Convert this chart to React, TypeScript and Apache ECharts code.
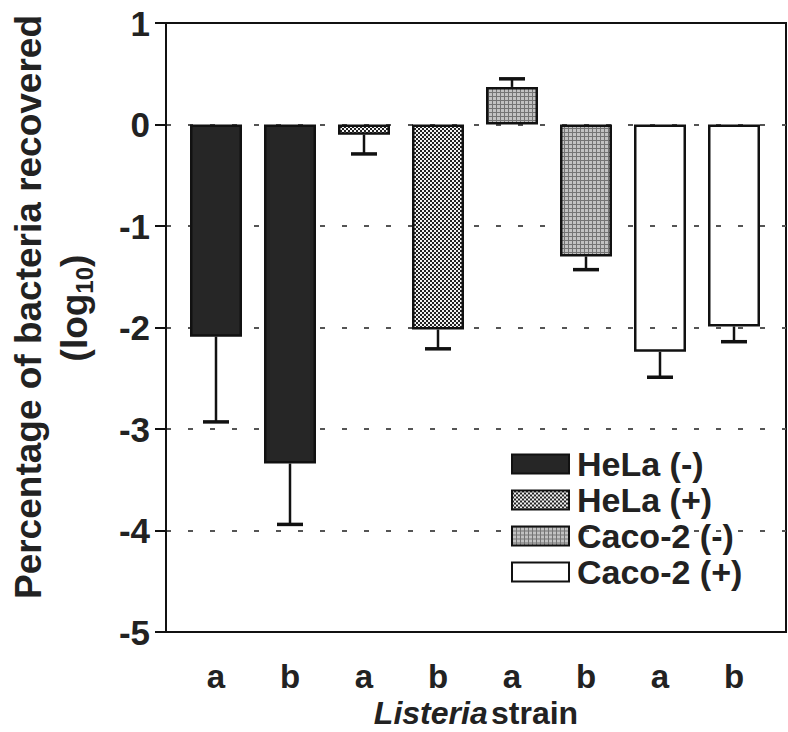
import React, { useEffect, useRef } from 'react';
import * as echarts from 'echarts';

const strainLabels = ['a', 'b', 'a', 'b', 'a', 'b', 'a', 'b'];
const seriesNames = ['HeLa (-)', 'HeLa (+)', 'Caco-2 (-)', 'Caco-2 (+)'];
const helaMinusMean = [-2.09, -3.34];
const helaMinusErr = [-2.93, -3.94];
const helaPlusMean = [-0.1, -2.02];
const helaPlusErr = [-0.29, -2.21];
const cacoMinusMean = [0.37, -1.3];
const cacoMinusErr = [0.45, -1.43];
const cacoPlusMean = [-2.24, -1.99];
const cacoPlusErr = [-2.49, -2.14];
const yMin = -5;
const yMax = 1;

const FONT = '"Liberation Sans", Arial, Helvetica, sans-serif';

function makePattern(w: number, h: number, draw: (ctx: CanvasRenderingContext2D) => void) {
  const c = document.createElement('canvas');
  c.width = w;
  c.height = h;
  const ctx = c.getContext('2d') as CanvasRenderingContext2D;
  draw(ctx);
  return { image: c, repeat: 'repeat' };
}

export default function App() {
  const ref = useRef<HTMLDivElement>(null);
  useEffect(() => {
    if (!ref.current) return;
    const chart = echarts.init(ref.current, undefined, { renderer: 'svg' });

    const checker = makePattern(4, 4, (ctx) => {
      ctx.fillStyle = '#222222';
      ctx.fillRect(0, 0, 4, 4);
      ctx.fillStyle = '#f2f2f2';
      ctx.fillRect(0, 0, 2, 2);
      ctx.fillRect(2, 2, 2, 2);
    });
    const gridPat = makePattern(4, 4, (ctx) => {
      ctx.fillStyle = '#c2c2c2';
      ctx.fillRect(0, 0, 4, 4);
      ctx.fillStyle = '#747474';
      ctx.fillRect(0, 0, 4, 1);
      ctx.fillRect(0, 0, 1, 4);
    });

    const groups = [
      { name: seriesNames[0], mean: helaMinusMean, err: helaMinusErr, fill: '#262626' as any },
      { name: seriesNames[1], mean: helaPlusMean, err: helaPlusErr, fill: checker as any },
      { name: seriesNames[2], mean: cacoMinusMean, err: cacoMinusErr, fill: gridPat as any },
      { name: seriesNames[3], mean: cacoPlusMean, err: cacoPlusErr, fill: 'rgba(255,255,255,0)' as any },
    ];
    const cats = strainLabels.map((s, i) => `${s}${i}`);

    const barSeries = groups.map((g, gi) => ({
      type: 'bar',
      name: g.name,
      xAxisIndex: 1,
      yAxisIndex: 1,
      data: cats.map((_, ci) => (Math.floor(ci / 2) === gi ? g.mean[ci % 2] : '-')),
      barWidth: 52,
      barGap: '-100%',
      itemStyle: { color: g.fill, borderColor: '#111', borderWidth: 2.5 },
    }));

    const errData = groups.flatMap((g, gi) => g.mean.map((m, k) => [gi * 2 + k, m, g.err[k]]));

    const option: any = {
      animation: false,
      textStyle: { fontFamily: FONT },
      grid: [
        { left: 166, right: 2, top: 23, bottom: 100, show: true, borderColor: '#111', borderWidth: 2, backgroundColor: 'rgba(0,0,0,0)' },
        { left: 179, right: 17, top: 23, bottom: 100 },
      ],
      legend: {
        data: seriesNames,
        orient: 'vertical',
        left: 506,
        top: 441,
        itemWidth: 57,
        itemHeight: 19,
        itemGap: 0,
        icon: 'rect',
        textStyle: { fontSize: 34, fontWeight: 'bold', color: '#222', fontFamily: FONT, lineHeight: 36, padding: [0, 0, 0, 3] },
      },
      xAxis: [
        { gridIndex: 0, type: 'value', show: false, min: 0, max: 1 },
        {
          gridIndex: 1,
          type: 'category',
          data: cats,
          axisLine: { show: false },
          axisTick: { show: false },
          axisLabel: {
            formatter: (_v: string, i: number) => strainLabels[i],
            fontSize: 33,
            fontWeight: 'bold',
            color: '#222',
            margin: 30,
            lineHeight: 28,
            fontFamily: FONT,
          },
        },
      ],
      yAxis: [
        {
          gridIndex: 0,
          type: 'value',
          min: yMin,
          max: yMax,
          interval: 1,
          axisLine: { show: true, lineStyle: { color: '#111', width: 2 } },
          axisTick: { show: true, length: 11, lineStyle: { color: '#111', width: 2 } },
          axisLabel: { fontSize: 35, fontWeight: 'bold', color: '#222', margin: 16, fontFamily: FONT },
          splitLine: { show: true, showMinLine: false, showMaxLine: false, lineStyle: { type: [5, 17], color: '#555', width: 2 } },
        },
        { gridIndex: 1, type: 'value', min: yMin, max: yMax, show: false, splitLine: { show: false } },
      ],
      graphic: [
        {
          type: 'text',
          x: 28,
          y: 307,
          rotation: Math.PI / 2,
          style: { text: 'Percentage of bacteria recovered', fontSize: 37, fontWeight: 'bold', fill: '#222', align: 'center', verticalAlign: 'middle', fontFamily: FONT },
        },
        {
          type: 'text',
          x: 74,
          y: 308,
          rotation: Math.PI / 2,
          style: {
            text: '{n|(log}{s|10}{n|)}',
            align: 'center',
            verticalAlign: 'middle',
            rich: {
              n: { fontSize: 37, fontWeight: 'bold', fill: '#222', fontFamily: FONT, lineHeight: 44, verticalAlign: 'middle' },
              s: { fontSize: 24, fontWeight: 'bold', fill: '#222', fontFamily: FONT, lineHeight: 24, verticalAlign: 'bottom' },
            },
          },
        },
        {
          type: 'text',
          x: 476,
          y: 713,
          style: {
            text: '{i|Listeria} {n|strain}',
            align: 'center',
            verticalAlign: 'middle',
            rich: {
              i: { fontSize: 32, fontWeight: 'bold', fontStyle: 'italic', fill: '#222', fontFamily: FONT, lineHeight: 34 },
              n: { fontSize: 32, fontWeight: 'bold', fill: '#222', fontFamily: FONT, lineHeight: 34 },
            },
          },
        },
      ],
      series: [
        ...barSeries,
        {
          type: 'custom',
          xAxisIndex: 1,
          yAxisIndex: 1,
          data: errData,
          encode: { x: 0, y: [1, 2] },
          renderItem: (_params: any, api: any) => {
            const x = api.value(0);
            const p0 = api.coord([x, api.value(1)]);
            const p1 = api.coord([x, api.value(2)]);
            return {
              type: 'group',
              children: [
                { type: 'line', shape: { x1: p0[0], y1: p0[1], x2: p1[0], y2: p1[1] }, style: { stroke: '#111', lineWidth: 2.5 } },
                { type: 'line', shape: { x1: p1[0] - 13, y1: p1[1], x2: p1[0] + 13, y2: p1[1] }, style: { stroke: '#111', lineWidth: 3.5 } },
              ],
            };
          },
        },
      ],
    };
    chart.setOption(option);
    return () => chart.dispose();
  }, []);
  return <div ref={ref} style={{ position: 'fixed', left: 0, top: 0, width: 788, height: 732, background: '#fff' }} />;
}
